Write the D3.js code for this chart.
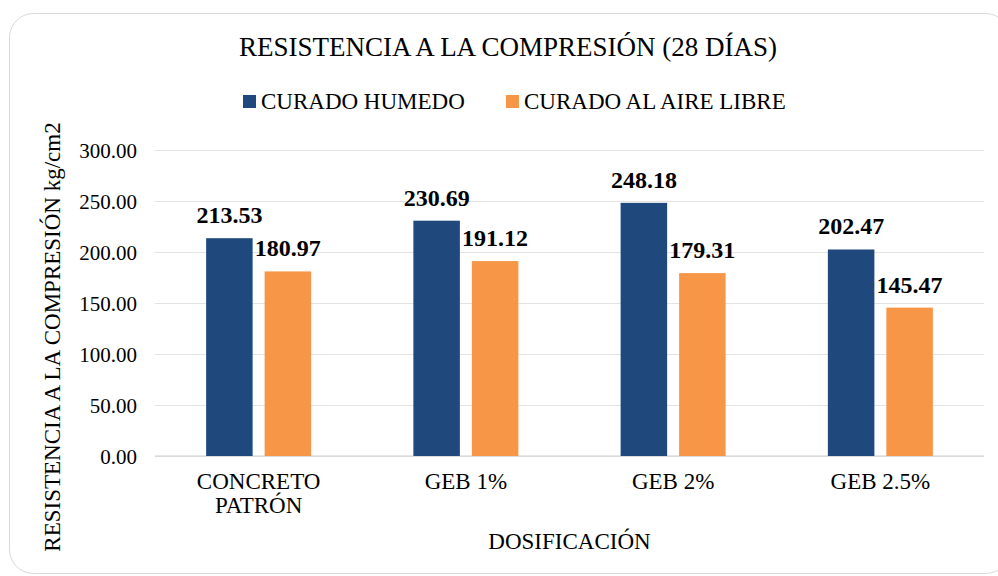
<!DOCTYPE html>
<html>
<head>
<meta charset="utf-8">
<script src="https://cdn.jsdelivr.net/npm/d3@7"></script>
<style>
  html, body { margin: 0; padding: 0; background: #ffffff; }
  svg { display: block; }
  text { font-family: "Liberation Serif", "Times New Roman", "DejaVu Serif", serif; fill: #000; }
</style>
</head>
<body>
<svg id="chart" width="998" height="576"></svg>
<script>
const categories = [["CONCRETO", "PATRÓN"], ["GEB 1%"], ["GEB 2%"], ["GEB 2.5%"]];
const seriesNames = ["CURADO HUMEDO", "CURADO AL AIRE LIBRE"];
const curadoHumedo = [213.53, 230.69, 248.18, 202.47];
const curadoAireLibre = [180.97, 191.12, 179.31, 145.47];
const yTicks = [0, 50, 100, 150, 200, 250, 300];
const titleText = "RESISTENCIA A LA COMPRESIÓN (28 DÍAS)";
const xTitle = "DOSIFICACIÓN";
const yTitle = "RESISTENCIA A LA COMPRESIÓN kg/cm2";

const FONT = '"Liberation Serif", "Times New Roman", serif';
const colors = ["#1F497D", "#F79646"];
const svg = d3.select("#chart");

// card
svg.append("rect")
  .attr("x", 9.5).attr("y", 13.5).attr("width", 1000).attr("height", 560)
  .attr("rx", 24).attr("fill", "#fff").attr("stroke", "#d9d9d9").attr("stroke-width", 1);

const plot = { left: 155, right: 984, top: 150, bottom: 456 };

const x0 = d3.scaleBand().domain(d3.range(categories.length)).range([plot.left, plot.right]).paddingInner(0).paddingOuter(0);
const inner = 105;
const x1 = d3.scaleBand().domain([0, 1])
  .range([(x0.bandwidth() - inner) / 2, (x0.bandwidth() + inner) / 2]).paddingInner(0.205);
const y = d3.scaleLinear().domain([0, 300]).range([plot.bottom, plot.top]);

// gridlines + tick labels
const yAxis = d3.axisLeft(y).tickValues(yTicks).tickSize(-(plot.right - plot.left)).tickPadding(18)
  .tickFormat(d => d.toFixed(2));
const gy = svg.append("g").attr("transform", `translate(${plot.left},0)`).call(yAxis);
gy.attr("font-family", FONT);
gy.select(".domain").remove();
gy.selectAll(".tick line").attr("stroke", "#e3e3e3").attr("stroke-width", 1);
gy.selectAll(".tick text").attr("font-size", 21).attr("fill", "#000").attr("dy", "0.34em");

// baseline
svg.append("line").attr("x1", plot.left).attr("x2", plot.right)
  .attr("y1", y(0)).attr("y2", y(0)).attr("stroke", "#d0d0d0").attr("stroke-width", 1.2);

const series = [curadoHumedo, curadoAireLibre];
const groups = svg.append("g").selectAll("g").data(categories).join("g")
  .attr("transform", (d, i) => `translate(${x0(i)},0)`);

groups.each(function(d, i) {
  const g = d3.select(this);
  series.forEach((s, k) => {
    g.append("rect")
      .attr("x", x1(k)).attr("width", x1.bandwidth())
      .attr("y", y(s[i])).attr("height", y(0) - y(s[i]))
      .attr("fill", colors[k]);
    g.append("text")
      .attr("x", x1(k) + x1.bandwidth() / 2)
      .attr("y", y(s[i]) - 15)
      .attr("text-anchor", "middle")
      .attr("font-size", 24).attr("font-weight", "bold")
      .text(s[i].toFixed(2));
  });
});

// x axis labels
const xAxis = d3.axisBottom(x0).tickSize(0).tickFormat("");
const gx = svg.append("g").attr("transform", `translate(0,${plot.bottom})`).call(xAxis);
gx.attr("font-family", FONT);
gx.select(".domain").remove();
gx.selectAll(".tick").each(function(i) {
  const t = d3.select(this).append("text").attr("text-anchor", "middle")
    .attr("font-size", 23).attr("fill", "#000");
  categories[i].forEach((line, j) => {
    t.append("tspan").attr("x", 0).attr("y", 33 + j * 24).text(line);
  });
});

// title
svg.append("text").attr("x", 508).attr("y", 56).attr("text-anchor", "middle")
  .attr("font-size", 27).text(titleText);

// legend
const legend = svg.append("g").attr("transform", "translate(0,101)");
const legendX = [243, 506];
seriesNames.forEach((n, k) => {
  legend.append("rect").attr("x", legendX[k]).attr("y", -6).attr("width", 13).attr("height", 13).attr("fill", colors[k]);
  legend.append("text").attr("x", legendX[k] + 18).attr("y", 8).attr("font-size", 23).text(n);
});

// axis titles
svg.append("text").attr("x", (plot.left + plot.right) / 2).attr("y", 549)
  .attr("text-anchor", "middle").attr("font-size", 23).text(xTitle);
svg.append("text").attr("transform", `translate(60,${337}) rotate(-90)`)
  .attr("text-anchor", "middle").attr("font-size", 23).text(yTitle);
</script>
</body>
</html>
